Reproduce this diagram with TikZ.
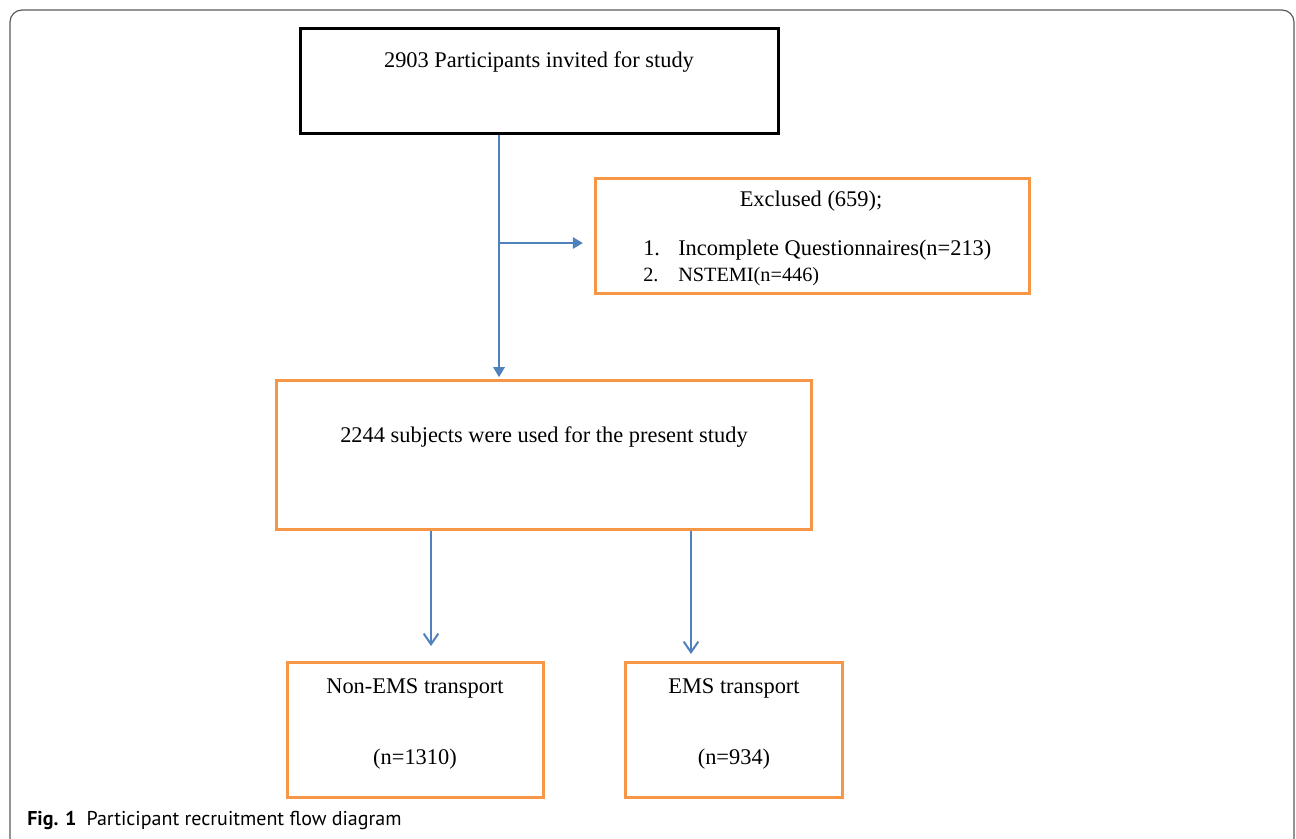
\documentclass[tikz,border=0pt]{standalone}
\usepackage{fontspec}
\setmainfont{Liberation Serif}
\newfontfamily\capfont{PT Sans}
\usepackage{tikz}
\usetikzlibrary{arrows.meta,positioning,fit,calc}
\definecolor{orangeline}{RGB}{247,150,70}
\definecolor{blueline}{RGB}{79,129,189}
\definecolor{framegray}{RGB}{90,90,90}
\tikzset{
  box/.style={
    draw=orangeline,
    line width=2.25pt,
    inner sep=0pt
  },
  darkbox/.style={
    box,
    draw=black
  },
  txt/.style={
    inner sep=0pt,
    anchor=base,
    font=\fontsize{16.8}{20}\selectfont
  },
  smalltxt/.style={
    txt,
    font=\fontsize{15.2}{18}\selectfont
  },
  fillarrow/.style={-{Triangle[length=7.5pt,width=8.5pt]}, draw=blueline, fill=blueline, line width=1.5pt},
  openarrow/.style={-{Straight Barb[length=8pt,width=11pt,line width=1.5pt]}, draw=blueline, line width=1.5pt}
}
\begin{document}
\begin{tikzpicture}[x=0.75pt,y=-0.75pt]
        \useasboundingbox (0,0) rectangle (1296,839);
        % outer frame of the figure
        \begin{scope}
          \clip (0,0) rectangle (1296,839);
          \draw[framegray, line width=0.9pt, rounded corners=9pt] (10,10) rectangle (1294,852);
        \end{scope}
        % boxes
        \node[darkbox, fit={(300,28) (778,133)}] (invite) {};
        \node[box, fit={(595,178) (1029,293)}] (exclude) {};
        \node[box, fit={(276,380) (811,529)}] (sample) {};
        \node[box, fit={(287,662) (543,797)}] (nonems) {};
        \node[box, fit={(625,662) (842,797)}] (ems) {};
        % texts
        \node[txt] (inviteTxt) at (539,67) {2903 Participants invited for study};
        \node[txt] (excludeTxt) at (811,206) {Exclused (659);};
        \node[txt, anchor=base west] (num1) at (643,255) {1.};
        \node[txt, anchor=base west] (item1) at (678,255) {Incomplete Questionnaires(n=213)};
        \node[smalltxt, anchor=base west] (num2) at (643,281) {2.};
        \node[smalltxt, anchor=base west] (item2) at (678,281) {NSTEMI(n=446)};
        \node[txt] (sampleTxt) at (544,442) {2244 subjects were used for the present study};
        \node[txt] (nonemsTxt) at (415,693) {Non-EMS transport};
        \node[txt] (nonemsN) at (415,764) {(n=1310)};
        \node[txt] (emsTxt) at (734,693) {EMS transport};
        \node[txt] (emsN) at (734,764) {(n=934)};
        % connectors
        \coordinate (split) at (499,243);
        \coordinate (nonTip) at (431,646);
        \coordinate (emsTip) at (691,654);
        \draw[fillarrow, shorten >=1pt] (invite.south -| split) -- (split |- sample.north);
        \draw[fillarrow, shorten >=8pt] (split) -- (split -| exclude.west);
        \draw[openarrow] (sample.south -| nonTip) -- (nonTip);
        \draw[openarrow] (sample.south -| emsTip) -- (emsTip);
        % caption
        \node[inner sep=0pt, anchor=base west, font=\capfont\fontsize{15}{17}\selectfont] (caption) at (27,825)
          {\textbf{Fig. 1}\hspace{0.5em}Participant recruitment flow diagram};
      \end{tikzpicture}
\end{document}
